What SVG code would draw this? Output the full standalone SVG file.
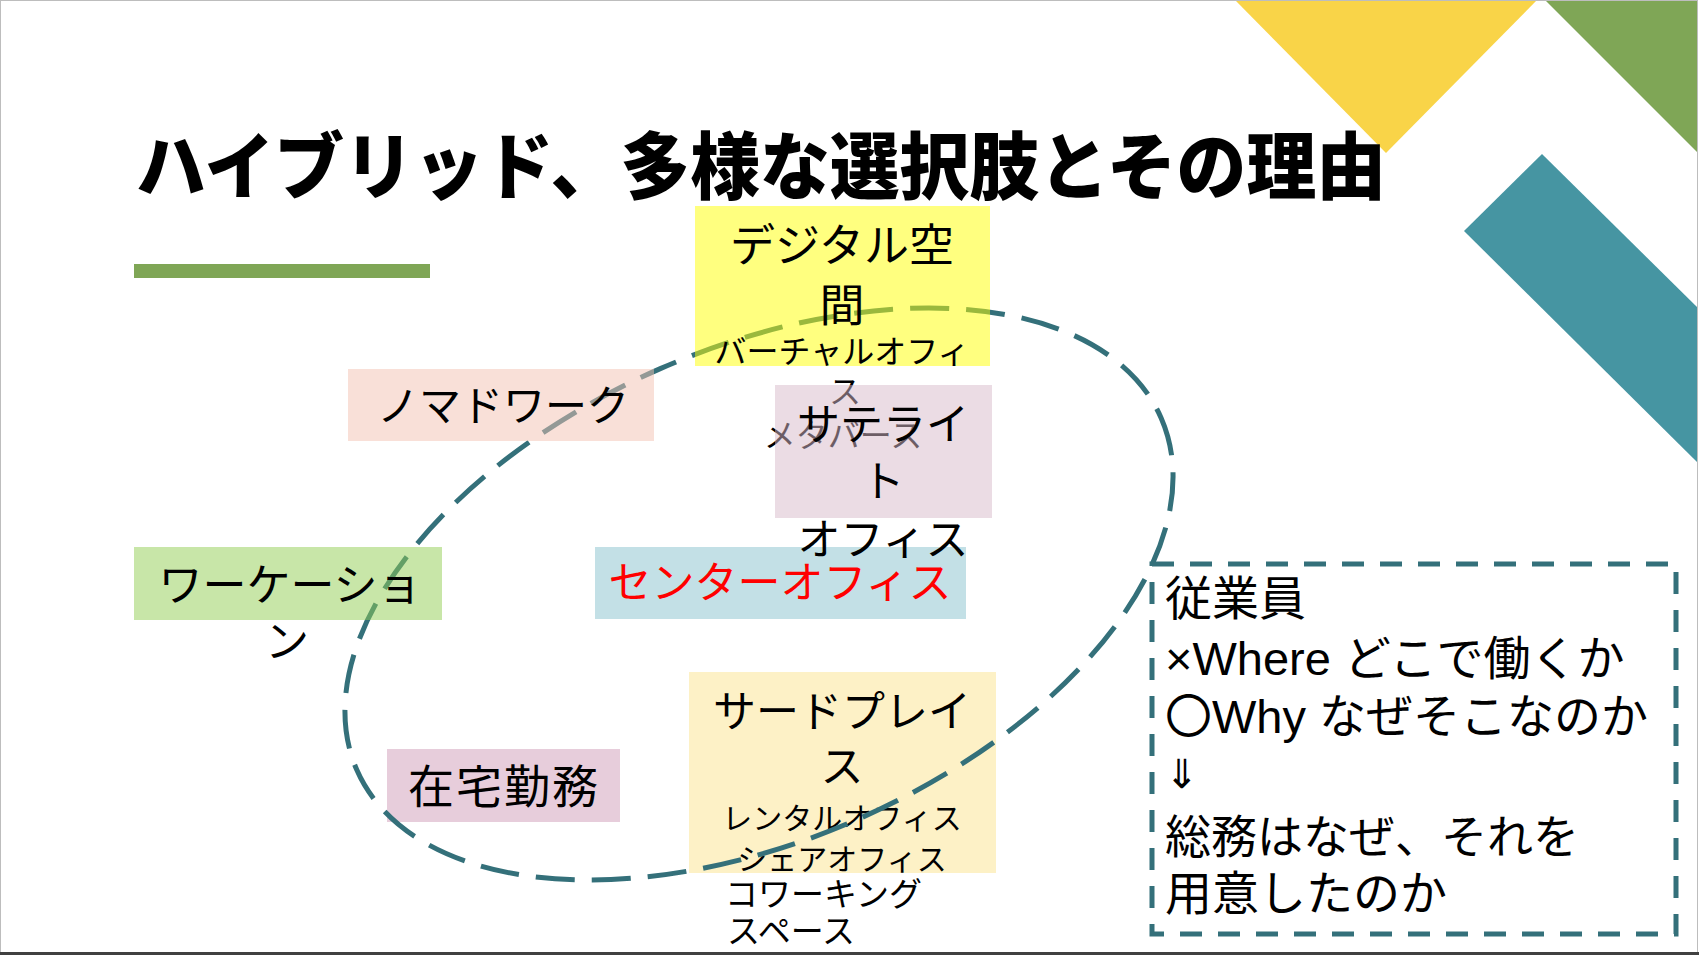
<svg xmlns="http://www.w3.org/2000/svg" width="1699" height="955" viewBox="0 0 1699 955">
<style>
text{font-family:"Liberation Sans","Noto Sans CJK JP",sans-serif;fill:#000}
.big{font-size:43px}
.small{font-size:30px}
.emp{font-size:47px}
.c{text-anchor:middle}
.title{font-size:73px;font-weight:900}
</style>
<rect x="0" y="0" width="1699" height="955" fill="#fff"/>
<g id="decor">
<polygon points="1235,0 1537,0 1386,153" fill="#F9D448"/>
<polygon points="1545,0 1697,0 1697,152" fill="#7FA656"/>
<polygon points="1542,154 1697,307 1697,462 1464,231" fill="#4695A2"/>
<rect x="134" y="264" width="296" height="14" fill="#7FA656"/>
</g>
<g id="title">
<text class="title" x="136" y="193" textLength="1250" lengthAdjust="spacingAndGlyphs">ハイブリッド、多様な選択肢とその理由</text>
</g>
<g id="node-third-place">
<rect x="689" y="672" width="307" height="201" fill="#FDF1C6"/>
<text class="big c" x="842" y="727">サードプレイ</text>
<text class="big c" x="842" y="782">ス</text>
<text class="small c" x="842" y="829">レンタルオフィス</text>
<text class="small c" x="842" y="870">シェアオフィス</text>
<text class="small" x="725" y="906" style="font-size:33px">コワーキング</text>
<text class="small" x="727" y="943" style="font-size:33px">スペース</text>
</g>
<g id="node-center-office">
<rect x="595" y="547" width="371" height="72" fill="#C3E0E6"/>
<text class="big c" x="780" y="598" style="fill:#FF0000">センターオフィス</text>
</g>
<g id="node-home">
<rect x="387" y="749" width="233" height="73" fill="#E7CDDB"/>
<text class="big c" x="504" y="803" style="font-size:46px;letter-spacing:2px">在宅勤務</text>
</g>
<g id="connectors">
<ellipse cx="759" cy="594" rx="439" ry="246" transform="rotate(-23.65 759 594)" fill="none" stroke="#34707A" stroke-width="5" stroke-dasharray="39 17"/>
</g>
<g id="node-digital">
<rect x="695" y="206" width="295" height="160" fill="#FFFF00" fill-opacity="0.5"/>
<text class="big c" x="842" y="262" style="font-size:45px">デジタル空</text>
<text class="big c" x="842" y="322" style="font-size:45px">間</text>
<text class="small c" x="842" y="363" style="font-size:32px">バーチャルオフィ</text>
<text class="small c" x="845" y="403" style="font-size:32px">ス</text>
<text class="small c" x="843" y="447" style="font-size:32px">メタバース</text>
</g>
<g id="node-satellite">
<rect x="775" y="385" width="217" height="133" fill="rgb(215,185,201)" fill-opacity="0.5"/>
<text class="big c" x="883" y="440">サテライ</text>
<text class="big c" x="883" y="497">ト</text>
<text class="big c" x="883" y="555">オフィス</text>
</g>
<g id="node-nomad">
<rect x="348" y="369" width="306" height="72" fill="rgb(243,193,177)" fill-opacity="0.5"/>
<text class="big c" x="503" y="421" style="font-size:42px">ノマドワーク</text>
</g>
<g id="node-workation">
<rect x="134" y="547" width="308" height="73" fill="rgb(145,205,81)" fill-opacity="0.5"/>
<text class="big c" x="290" y="601" style="font-size:44px">ワーケーショ</text>
<text class="big c" x="287" y="657" style="font-size:44px">ン</text>
</g>
<g id="node-employee">
<rect x="1152" y="564" width="524" height="370" fill="none" stroke="#34707A" stroke-width="5" stroke-dasharray="22 16"/>
<text class="emp" x="1165" y="615">従業員</text>
<text class="emp" x="1165" y="675">×Where どこで働くか</text>
<text class="emp" x="1165" y="733">〇Why なぜそこなのか</text>
<text class="emp" x="1165" y="788" style="font-size:40px">⇓</text>
<text class="emp" x="1165" y="853" style="font-size:46px">総務はなぜ、それを</text>
<text class="emp" x="1165" y="910">用意したのか</text>
</g>
<g id="frame">
<rect x="0.5" y="0.5" width="1697" height="953" fill="none" stroke="#bdbdbd" stroke-width="1"/>
<rect x="0" y="952" width="1699" height="3" fill="#404040"/>
</g>
</svg>
